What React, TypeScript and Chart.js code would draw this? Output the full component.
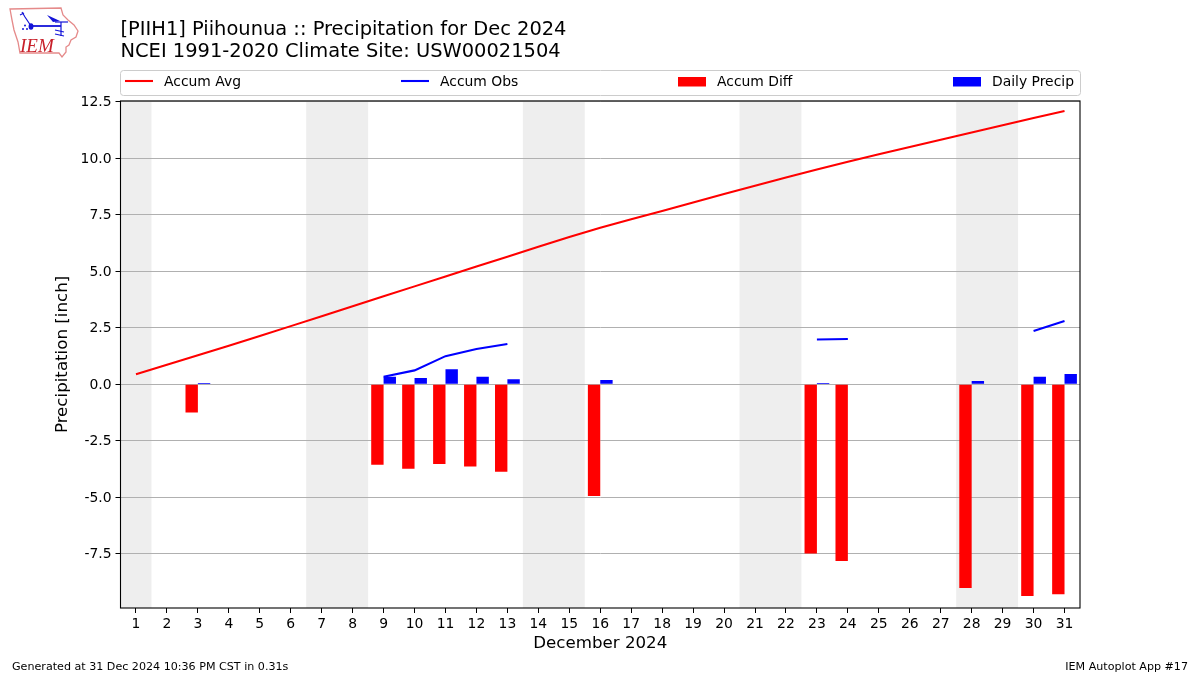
import React, { useEffect, useRef } from "react";
import { Chart, registerables } from "chart.js";

Chart.register(...registerables);

const FONT = '"DejaVu Sans"';

const days = ["1","2","3","4","5","6","7","8","9","10","11","12","13","14","15","16","17","18","19","20","21","22","23","24","25","26","27","28","29","30","31"];
const accumAvg = [0.44,0.86,1.28,1.7,2.13,2.57,3.01,3.45,3.89,4.33,4.77,5.21,5.64,6.08,6.52,6.92,7.3,7.67,8.04,8.42,8.79,9.15,9.5,9.85,10.18,10.5,10.82,11.14,11.46,11.78,12.09];
const accumObs = [null,null,0.02,null,null,null,null,null,0.33,0.61,1.24,1.56,1.78,null,null,1.95,null,null,null,null,null,null,1.98,2.0,null,null,null,2.1,null,2.35,2.8];
const accumDiff = [null,null,-1.25,null,null,null,null,null,-3.57,-3.75,-3.53,-3.65,-3.88,null,null,-4.95,null,null,null,null,null,null,-7.5,-7.83,null,null,null,-9.02,null,-9.38,-9.3];
const dailyPrecip = [null,null,0.05,null,null,null,null,null,0.33,0.27,0.66,0.33,0.22,null,null,0.18,null,null,null,null,null,null,0.05,null,null,null,null,0.14,null,0.33,0.45];
const yTicks = [-7.5,-5,-2.5,0,2.5,5,7.5,10,12.5];
const weekendSpans = [[0,0],[6,7],[13,14],[20,21],[27,28]];
const titleLines = ["[PIIH1] Piihounua :: Precipitation for Dec 2024","NCEI 1991-2020 Climate Site: USW00021504"];
const xAxisTitle = "December 2024";
const yAxisTitle = "Precipitation [inch]";
const footerLeft = "Generated at 31 Dec 2024 10:36 PM CST in 0.31s";
const footerRight = "IEM Autoplot App #17";

const legendSlots = [
  { handle: 125, text: 164 },
  { handle: 401, text: 440 },
  { handle: 678, text: 717 },
  { handle: 953, text: 992 },
];

const decorPlugin = {
  id: "decor",
  beforeDraw(chart: any) {
    const { ctx, chartArea: a, scales } = chart;
    ctx.save();
    ctx.fillStyle = "#fff";
    ctx.fillRect(0, 0, chart.width, chart.height);
    ctx.fillStyle = "#eeeeee";
    const step = scales.x.width / days.length;
    for (const [s, e] of weekendSpans) {
      const x0 = scales.x.getPixelForValue(s) - step / 2;
      const x1 = scales.x.getPixelForValue(e) + step / 2;
      ctx.fillRect(x0, a.top, x1 - x0, a.bottom - a.top);
    }
    ctx.restore();
  },
  afterDraw(chart: any) {
    const { ctx, chartArea: a } = chart;
    ctx.save();
    // frame
    ctx.strokeStyle = "#000";
    ctx.lineWidth = 1.1;
    ctx.strokeRect(a.left, a.top, a.right - a.left, a.bottom - a.top);

    // legend
    ctx.fillStyle = "rgba(255,255,255,0.8)";
    ctx.strokeStyle = "#cccccc";
    ctx.lineWidth = 1;
    ctx.beginPath();
    ctx.roundRect(120.5, 70.5, 960, 25, 3);
    ctx.fill();
    ctx.stroke();
    ctx.font = `13.9px ${FONT}`;
    ctx.textBaseline = "alphabetic";
    ctx.textAlign = "left";
    const ordered = [0, 1, 2, 3].map((i) => chart.data.datasets[i]);
    ordered.forEach((ds: any, i: number) => {
      const slot = legendSlots[i];
      if (ds.type === "line") {
        ctx.strokeStyle = ds.borderColor;
        ctx.lineWidth = 2.08;
        ctx.beginPath();
        ctx.moveTo(slot.handle, 81);
        ctx.lineTo(slot.handle + 28, 81);
        ctx.stroke();
      } else {
        ctx.fillStyle = ds.backgroundColor;
        ctx.fillRect(slot.handle, 77, 28, 9.5);
      }
      ctx.fillStyle = "#000";
      ctx.fillText(ds.label, slot.text, 86);
    });

    // footer
    ctx.fillStyle = "#000";
    ctx.font = `11.11px ${FONT}`;
    ctx.fillText(footerLeft, 12, 670);
    ctx.textAlign = "right";
    ctx.fillText(footerRight, 1188, 670);
    ctx.restore();
  },
};

function Logo() {
  return (
    <svg width="84" height="60" viewBox="0 0 84 60" style={{ position: "absolute", left: 0, top: 0 }}>
      <path
        d="M10 9 L61 8 L63 15 L68 20 L74 25 L78 31 L76 37 L71 40 L69 45 L66 47 L66 52 L62 57 L59 53 L20 53 L18 42 L14 30 L12 20 Z"
        fill="#fff" stroke="#e58a8a" strokeWidth="1.3"
      />
      <g stroke="#1414d8" fill="none" strokeWidth="1.2">
        <path d="M22 12 L25 17 L31 26" />
        <path d="M20 15 L24 13" />
        <path d="M32 26 L61 26" strokeWidth="1.8" />
        <path d="M55 22 L68 22" />
        <path d="M61 22 L61 36" />
        <path d="M55 30 L64 32 M55 34 L64 36" />
      </g>
      <path d="M47 15 L60 21 L53 22 Z" fill="#1414d8" />
      <ellipse cx="31" cy="26.5" rx="2.4" ry="3.2" fill="#1414d8" />
      <circle cx="23" cy="29" r="1" fill="#1414d8" />
      <circle cx="25" cy="25.5" r="1" fill="#1414d8" />
      <circle cx="27" cy="29" r="1" fill="#1414d8" />
      <text x="20" y="52" fontFamily='"Liberation Serif"' fontStyle="italic" fontSize="19" fill="#c8202a">IEM</text>
    </svg>
  );
}

export default function App() {
  const ref = useRef<HTMLCanvasElement>(null);
  useEffect(() => {
    document.body.style.margin = "0";
    const chart = new Chart(ref.current!, {
      type: "bar",
      plugins: [decorPlugin],
      data: {
        labels: days,
        datasets: [
          { type: "line", label: "Accum Avg", data: accumAvg, borderColor: "#ff0000", backgroundColor: "#ff0000", borderWidth: 2.08, pointRadius: 0, order: 1, tension: 0 },
          { type: "line", label: "Accum Obs", data: accumObs, borderColor: "#0000ff", backgroundColor: "#0000ff", borderWidth: 2.08, pointRadius: 0, spanGaps: false, order: 2, tension: 0 },
          { type: "bar", label: "Accum Diff", data: accumDiff, backgroundColor: "#ff0000", categoryPercentage: 0.8, barPercentage: 1, order: 3 },
          { type: "bar", label: "Daily Precip", data: dailyPrecip, backgroundColor: "#0000ff", categoryPercentage: 0.8, barPercentage: 1, order: 4 },
        ] as any,
      },
      options: {
        responsive: false,
        animation: false,
        layout: { padding: { top: 0, right: 120, bottom: 0, left: 0 } },
        plugins: {
          legend: { display: false },
          tooltip: { enabled: false },
          title: {
            display: true,
            text: titleLines,
            align: "start",
            fullSize: false,
            color: "#000",
            font: { family: FONT, size: 19.44, weight: "normal", lineHeight: 1.13 },
            padding: { top: 19, bottom: 38 },
          },
        },
        scales: {
          x: {
            type: "category",
            offset: true,
            afterFit: (s: any) => { s.height = 67; },
            grid: { display: true, drawOnChartArea: false, drawTicks: true, tickColor: "#000", tickLength: 5, offset: false },
            border: { display: false },
            ticks: { color: "#000", font: { family: FONT, size: 13.9 }, maxRotation: 0, autoSkip: false, padding: 3 },
            title: { display: true, text: xAxisTitle, color: "#000", font: { family: FONT, size: 16.67 }, padding: { top: 0, bottom: 21 } },
          },
          y: {
            type: "linear",
            min: -9.91,
            max: 12.54,
            afterFit: (s: any) => { s.width = 120.5; },
            afterBuildTicks: (s: any) => { s.ticks = yTicks.map((value) => ({ value })); },
            grid: { color: "#b0b0b0", lineWidth: 1, tickColor: "#000", tickLength: 5 },
            border: { display: false },
            ticks: { color: "#000", font: { family: FONT, size: 13.9 }, padding: 4, labelOffset: 1, callback: (v: any) => Number(v).toFixed(1) },
            title: { display: true, text: yAxisTitle, color: "#000", font: { family: FONT, size: 16.67 }, padding: { top: 53, bottom: 0 } },
          },
        },
      },
    } as any);
    return () => chart.destroy();
  }, []);
  return (
    <div style={{ position: "relative", width: 1200, height: 675 }}>
      <canvas ref={ref} width={1200} height={675} style={{ display: "block" }} />
      <Logo />
    </div>
  );
}
